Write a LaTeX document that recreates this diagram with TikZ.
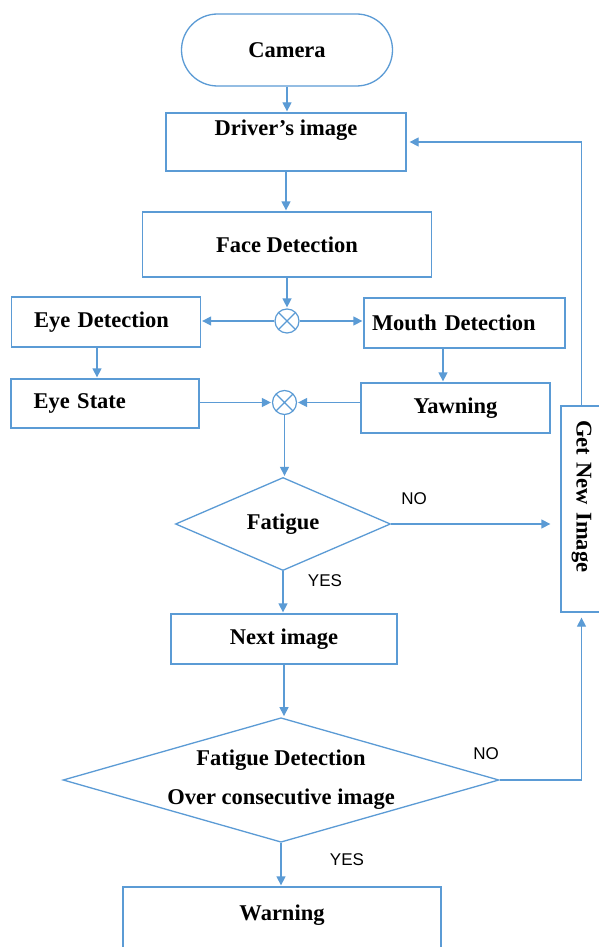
\documentclass[tikz,border=0pt]{standalone}
\usepackage{fontspec}
\setmainfont{Liberation Serif}
\newfontfamily\labelfont{Liberation Sans}
\usetikzlibrary{shapes.geometric,shapes.misc,arrows.meta,calc}
\definecolor{flowblue}{RGB}{91,155,213}
\begin{document}
\begin{tikzpicture}[x=1pt,y=-1pt,
  every node/.style={font=\fontsize{22.5}{27}\selectfont\bfseries, text=black},
  box/.style={draw=flowblue, line width=1.3pt, rectangle, inner sep=0pt},
  dia/.style={draw=flowblue, line width=1.3pt, diamond, inner sep=0pt},
  xcirc/.style={circle, draw=flowblue, line width=1.2pt, minimum size=24pt, inner sep=0pt,
    path picture={\draw[flowblue, line width=1.2pt]
      (path picture bounding box.north west) -- (path picture bounding box.south east)
      (path picture bounding box.north east) -- (path picture bounding box.south west);}},
  arr/.style={draw=flowblue, line width=1.3pt, -{Triangle[length=9pt,width=9pt]}, shorten >=1pt},
  lbl/.style={font=\labelfont\fontsize{17}{20}\selectfont, text=black}
]
\fill[white] (0,0) rectangle (599,947);
\useasboundingbox (0,0) rectangle (599,947);

\node[box, rounded rectangle, minimum width=211pt, minimum height=72pt] (camera) at (287,50) {Camera};
\node[box, minimum width=240pt, minimum height=58pt, text height=16pt, text depth=29pt] (driver) at (286,142) {Driver’s image};
\node[box, minimum width=289pt, minimum height=65pt] (face) at (287,244.5) {Face Detection};
\node[xcirc] (c1) at (287,321) {};
\node[box, minimum height=50pt, text width=144pt, align=left, inner xsep=22.5pt] (eyedet) at (106,322) {Eye Detection};
\node[box, minimum height=50pt, text width=185pt, align=left, inner xsep=8pt] (mouthdet) at (464.5,323) {Mouth Detection};
\node[box, minimum height=49pt, text width=143pt, align=left, inner xsep=22.5pt] (eyestate) at (105,403.5) {Eye State};
\node[box, minimum width=189pt, minimum height=50pt] (yawn) at (455.5,408) {Yawning};
\node[xcirc] (c2) at (284.5,402.5) {};
\node[dia, minimum width=215pt, minimum height=72pt] (fat) at (283,524) {Fatigue};
\node[box, minimum width=226pt, minimum height=50pt] (next) at (284,639) {Next image};
\node[dia, shape aspect=3.5, align=center, font=\fontsize{22.5}{39}\selectfont\bfseries,
  minimum width=434pt, minimum height=122pt] (fd) at (281,780) {Fatigue Detection\\Over consecutive image};
\node[box, minimum width=318pt, minimum height=80pt, text height=16pt, text depth=29pt] (warn) at (282,927) {Warning};
\node[box, rotate=-90, minimum width=206pt, minimum height=41pt, text width=178pt, align=left, inner xsep=14pt] (getnew) at (581.5,509) {Get New Image};

\draw[arr] (camera.south) -- (camera.south |- driver.north);
\draw[arr] (driver.south) -- (driver.south |- face.north);
\draw[arr] (face.south) -- (c1.north);
\draw[arr] (c1.west) -- (c1.west -| eyedet.east);
\draw[arr] (c1.east) -- (c1.east -| mouthdet.west);
\draw[arr] ([xshift=-9pt]eyedet.south) -- ([xshift=-9pt]eyedet.south |- eyestate.north);
\draw[arr] ([xshift=-21.5pt]mouthdet.south) -- ([xshift=-21.5pt]mouthdet.south |- yawn.north);
\draw[arr] (eyestate.east |- c2.west) -- (c2.west);
\draw[arr] (yawn.west |- c2.east) -- (c2.east);
\draw[arr] (c2.south) -- (c2.south |- fat.north);
\draw[arr] (fat.south) -- (fat.south |- next.north);
\draw[arr] (next.south) -- (next.south |- fd.north);
\draw[arr] (fd.south) -- (fd.south |- warn.north);
\draw[arr, shorten >=10pt] (fat.east) -- (fat.east -| getnew.south);
\draw[arr, shorten >=5pt] (fd.east) -| (getnew.east);
\draw[arr, shorten >=3pt] (getnew.west) |- (driver.east);

\node[lbl] (no1) at (414,499) {NO};
\node[lbl] (yes1) at (325,581) {YES};
\node[lbl] (no2) at (486,754) {NO};
\node[lbl] (yes2) at (347,860) {YES};
\end{tikzpicture}
\end{document}
